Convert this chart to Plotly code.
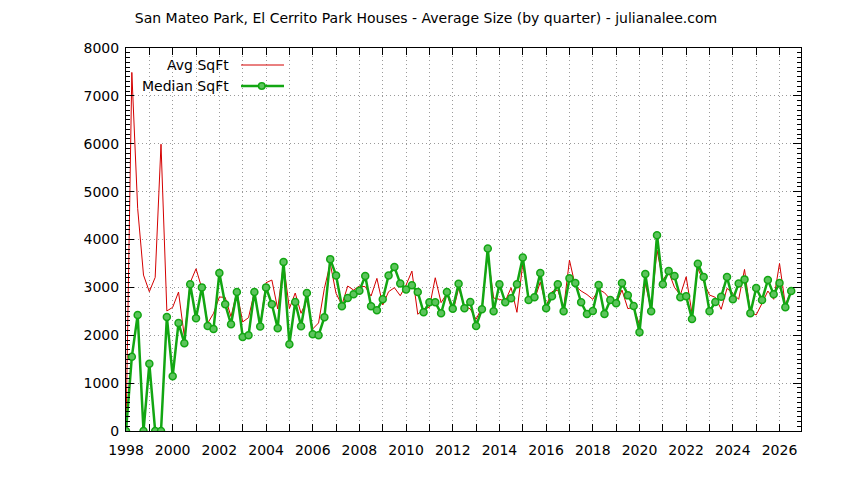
import plotly.graph_objects as go

# Quarterly house size data (sq ft), 1998 Q1 .. 2026 Q3
first_year = 1998

avg_sqft = [
    0, 7490, 4650, 3257,
    2910, 3208, 5990, 2507,
    2583, 2903, 1972, 3100,
    3389, 2979, 2250, 2458,
    2799, 2792, 2389, 2910,
    2278, 2368, 2903, 2200,
    3097, 3153, 2549, 3500,
    2556, 2882, 2458, 2736,
    2132, 2257, 2979, 3500,
    2875, 2632, 3028, 2944,
    3028, 3014, 2819, 3188,
    2632, 2910, 2993, 2826,
    3049, 3340, 2438, 2549,
    2583, 3201, 2681, 2875,
    2472, 2979, 2611, 2550,
    2333, 2583, 3708, 2778,
    2750, 2715, 2993, 2479,
    3500, 2757, 2736, 3111,
    2611, 2910, 2944, 2563,
    3569, 3028, 2924, 2850,
    2750, 2958, 2889, 2750,
    2646, 2944, 2556, 2583,
    2215, 3083, 2528, 3778,
    3153, 3326, 3000, 2840,
    3222, 2458, 3396, 3118,
    2840, 2792, 2542, 2979,
    2875, 2750, 3375, 2479,
    2424, 2667, 2924, 2750,
    3500, 2632, 2931,
]

median_sqft = [
    0, 1549, 2424, 0,
    1403, 0, 0, 2382,
    1146, 2257, 1833, 3063,
    2354, 3000, 2194, 2132,
    3299, 2646, 2229, 2903,
    1965, 2000, 2903, 2181,
    3000, 2646, 2146, 3528,
    1813, 2694, 2188, 2882,
    2021, 2000, 2375, 3590,
    3250, 2604, 2778, 2854,
    2931, 3236, 2604, 2521,
    2750, 3250, 3424, 3083,
    2958, 3042, 2903, 2479,
    2688, 2688, 2458, 2903,
    2556, 3076, 2563, 2694,
    2194, 2542, 3813, 2500,
    3063, 2688, 2771, 3063,
    3625, 2736, 2792, 3299,
    2563, 2813, 3063, 2500,
    3188, 3090, 2688, 2444,
    2507, 3049, 2444, 2736,
    2667, 3090, 2833, 2611,
    2063, 3278, 2500, 4090,
    3063, 3340, 3236, 2792,
    2813, 2340, 3493, 3215,
    2500, 2694, 2806, 3215,
    2750, 3083, 3167, 2458,
    2986, 2736, 3153, 2854,
    3090, 2583, 2924,
]

# quarter start positions on a decimal-year axis
quarters = [first_year + i / 4 for i in range(len(avg_sqft))]

RED = '#d40000'
GREEN = '#12a612'
FONT = 'DejaVu Sans'

# the page body adds an 8px margin, so the figure is a bit smaller than the window
W, H = 836, 472
L, R, T, B = 118, 43, 40, 49
plot_w = W - L - R
plot_h = H - T - B

fig = go.Figure()

fig.add_trace(go.Scatter(x=quarters, y=avg_sqft, mode='lines', name='Avg SqFt',
                         line=dict(color=RED, width=1)))
fig.add_trace(go.Scatter(x=quarters, y=median_sqft, mode='lines+markers', name='Median SqFt',
                         line=dict(color=GREEN, width=2.5),
                         marker=dict(symbol='circle', size=7, color='#5cc45c',
                                     line=dict(color=GREEN, width=1.5))))

grid = dict(gridcolor='#9a9a9a', griddash='1px,3px', gridwidth=1)

fig.update_layout(
    width=W,
    height=H,
    paper_bgcolor='white',
    plot_bgcolor='white',
    showlegend=False,
    font=dict(family=FONT, size=14, color='black'),
    margin=dict(l=L, r=R, t=T, b=B),
    title=dict(text='San Mateo Park, El Cerrito Park Houses - Average Size (by quarter) - julianalee.com',
               x=0.5, xanchor='center', y=1 - 10 / H, yanchor='middle',
               font=dict(family=FONT, size=14, color='black')),
    xaxis=dict(range=[1998, 2026.92], dtick=2, tick0=1998, showgrid=True, **grid,
               ticks='inside', ticklen=7, tickcolor='black', mirror='allticks',
               ticklabelstandoff=6,
               showline=True, linecolor='black', linewidth=1, zeroline=False,
               minor=dict(dtick=1, ticks='inside', ticklen=7, tickcolor='black',
                          showgrid=True, **grid)),
    yaxis=dict(range=[0, 8000], dtick=1000, showgrid=True, **grid,
               ticks='inside', ticklen=8, tickcolor='black', mirror='allticks',
               ticklabelstandoff=3,
               showline=True, linecolor='black', linewidth=1, zeroline=False,
               minor=dict(dtick=100, ticks='inside', ticklen=4, tickcolor='black',
                          showgrid=False)),
)

# gnuplot-style key: text on the left, sample on the right
# (positions given in screenshot pixels, converted to paper coords)
def px_x(p):
    return (p - 8 - L) / plot_w

def px_y(p):
    return (H - B + 8 - p) / plot_h

key = [('Avg SqFt', 65, RED, 1), ('Median SqFt', 86, GREEN, 2.5)]
for label, ypix, color, width in key:
    fig.add_annotation(x=px_x(231), y=px_y(ypix), xref='paper', yref='paper',
                       text=label, showarrow=False, xanchor='right', yanchor='middle',
                       font=dict(family=FONT, size=14, color='black'))
    fig.add_shape(type='line', xref='paper', yref='paper',
                  x0=px_x(241), x1=px_x(284), y0=px_y(ypix), y1=px_y(ypix),
                  line=dict(color=color, width=width))

fig.add_shape(type='circle', xref='paper', yref='paper',
              x0=px_x(258.5), x1=px_x(265), y0=px_y(89.2), y1=px_y(82.8),
              fillcolor='#5cc45c', line=dict(color=GREEN, width=1.5))

fig.write_html('out.html')
